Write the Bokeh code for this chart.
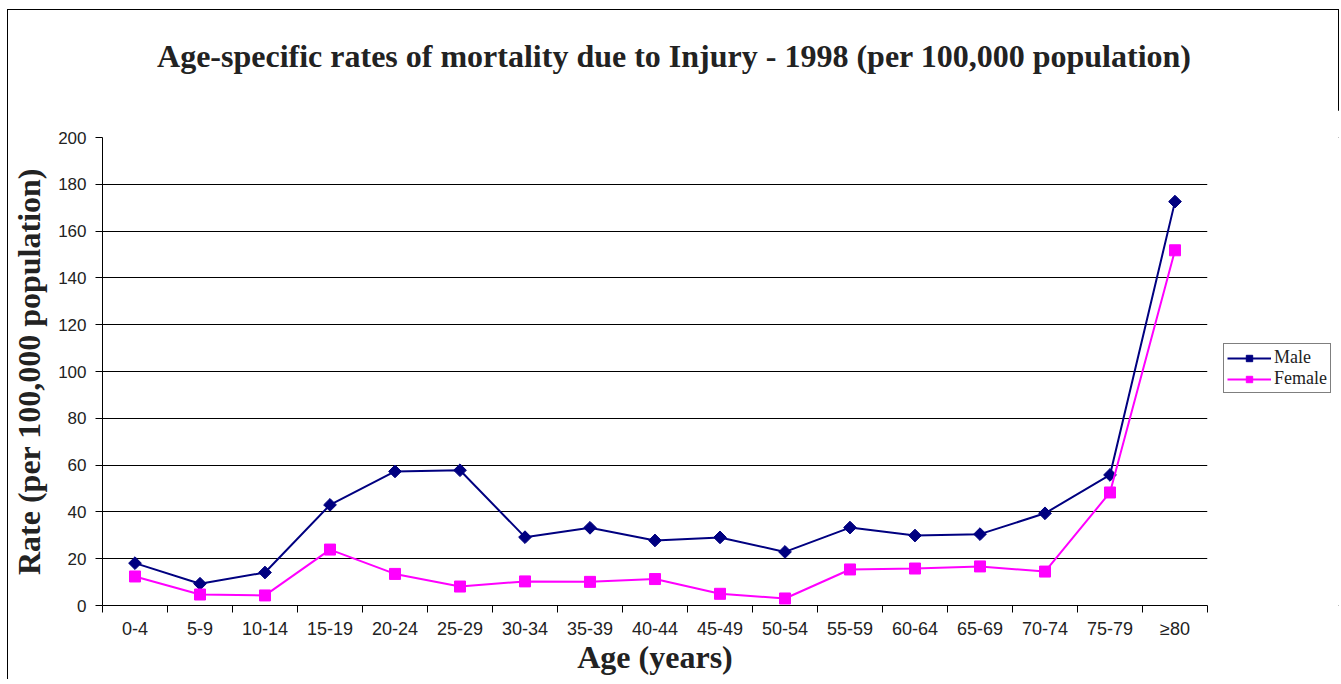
import math
from bokeh.plotting import figure
from bokeh.models import FixedTicker, Legend, LegendItem, ColumnDataSource, Range1d, Div
from bokeh.layouts import column, row
from bokeh.embed import file_html
from bokeh.resources import INLINE

categories = ["0-4", "5-9", "10-14", "15-19", "20-24", "25-29", "30-34", "35-39",
              "40-44", "45-49", "50-54", "55-59", "60-64", "65-69", "70-74", "75-79", "≥80"]
male = [18.1, 9.3, 14.1, 43.0, 57.3, 57.8, 29.2, 33.2, 27.8, 29.1, 22.9, 33.3, 29.9, 30.5, 39.4, 55.8, 172.6]
female = [12.4, 4.7, 4.3, 23.9, 13.5, 8.1, 10.3, 10.1, 11.3, 5.0, 3.0, 15.4, 15.8, 16.7, 14.5, 48.3, 151.8]
y_ticks = list(range(0, 201, 20))

title_text = "Age-specific rates of mortality due to Injury - 1998 (per 100,000 population)"
x_title = "Age (years)"
y_title = "Rate (per 100,000 population)"

n = len(categories)
xs = [i + 0.5 for i in range(n)]
src = ColumnDataSource(dict(x=xs, male=male, female=female))

SERIF = "Liberation Serif"
SANS = "Liberation Sans"
INK = "#222222"
NAVY = "#000080"
MAG = "#FF00FF"

title = Div(text=(f'<div style="width: 1332px; font-family: \'{SERIF}\'; font-weight: bold; '
                  f'font-size: 32px; color: {INK}; text-align: center; line-height: 38px; '
                  f'padding-top: 27px; white-space: nowrap;">{title_text}</div>'),
            width=1332, height=100, margin=0)

# ---- main chart
p = figure(width=1200, height=570, output_backend="svg", toolbar_location=None,
           x_range=Range1d(0, n), y_range=Range1d(0, 200),
           min_border_left=94, min_border_right=1, min_border_top=27, min_border_bottom=75)
p.outline_line_color = None
p.background_fill_color = "white"
p.border_fill_color = "white"

p.xaxis.ticker = FixedTicker(ticks=xs, minor_ticks=list(range(n + 1)))
p.xaxis.major_label_overrides = {x: c for x, c in zip(xs, categories)}
p.xaxis.major_tick_out = 0
p.xaxis.major_tick_in = 0
p.xaxis.minor_tick_out = 7
p.xaxis.minor_tick_in = 0
p.xaxis.minor_tick_line_color = "black"
p.xaxis.axis_line_color = "black"
p.xaxis.major_label_text_font = SANS
p.xaxis.major_label_text_font_size = "18px"
p.xaxis.major_label_text_color = INK
p.xaxis.major_label_standoff = 6
p.xaxis.axis_label = x_title
p.xaxis.axis_label_text_font = SERIF
p.xaxis.axis_label_text_font_style = "bold"
p.xaxis.axis_label_text_font_size = "32px"
p.xaxis.axis_label_text_color = INK
p.xaxis.axis_label_standoff = -3
p.xgrid.grid_line_color = None

p.yaxis.ticker = FixedTicker(ticks=y_ticks, minor_ticks=[])
p.yaxis.major_tick_out = 7
p.yaxis.major_tick_in = 0
p.yaxis.major_tick_line_color = "black"
p.yaxis.axis_line_color = "black"
p.yaxis.major_label_text_font = SANS
p.yaxis.major_label_text_font_size = "17px"
p.yaxis.major_label_text_color = INK
p.yaxis.major_label_standoff = 9
p.yaxis.axis_label = y_title
p.yaxis.axis_label_text_font = SERIF
p.yaxis.axis_label_text_font_style = "bold"
p.yaxis.axis_label_text_font_size = "32px"
p.yaxis.axis_label_text_color = INK
p.yaxis.axis_label_standoff = 8
p.ygrid.grid_line_color = "black"
p.ygrid.grid_line_width = 1


def draw_series(fig):
    lm = fig.line("x", "male", source=src, line_color=NAVY, line_width=2)
    mm = fig.scatter("x", "male", source=src, marker="square", angle=math.pi / 4, size=9,
                     fill_color=NAVY, line_color=NAVY)
    lf = fig.line("x", "female", source=src, line_color=MAG, line_width=2)
    mf = fig.scatter("x", "female", source=src, marker="square", size=11,
                     fill_color=MAG, line_color=MAG)
    return lm, mm, lf, mf


draw_series(p)

# ---- legend panel (its own small figure; series lie outside its ranges)
lfig = figure(width=132, height=570, output_backend="svg", toolbar_location=None,
              x_range=Range1d(-2, -1), y_range=Range1d(0, 200),
              x_axis_location=None, y_axis_location=None,
              min_border_left=0, min_border_right=0, min_border_top=0, min_border_bottom=0)
lfig.grid.visible = False
lfig.outline_line_color = None
lfig.background_fill_color = "white"
lfig.border_fill_color = "white"
lm, mm, lf, mf = draw_series(lfig)

legend = Legend(items=[LegendItem(label="Male", renderers=[lm, mm]),
                       LegendItem(label="Female", renderers=[lf, mf])],
                location=(15, 212))
legend.border_line_color = "black"
legend.border_line_width = 1
legend.background_fill_color = "white"
legend.label_text_font = SERIF
legend.label_text_font_size = "18px"
legend.label_text_color = INK
legend.glyph_width = 44
legend.glyph_height = 16
legend.label_height = 16
legend.label_width = 52
legend.label_standoff = 3
legend.spacing = 0
legend.padding = 3
legend.margin = 0
lfig.add_layout(legend, "center")

page = column(title, row(p, lfig, spacing=0), spacing=0, width=1332, height=670,
              styles={"margin-left": "7px", "margin-top": "9px",
                      "border-left": "1px solid #000", "border-top": "1px solid #000",
                      "border-right": "1px solid #000", "background-color": "white"})

open("out.html", "w").write(file_html(page, INLINE))
